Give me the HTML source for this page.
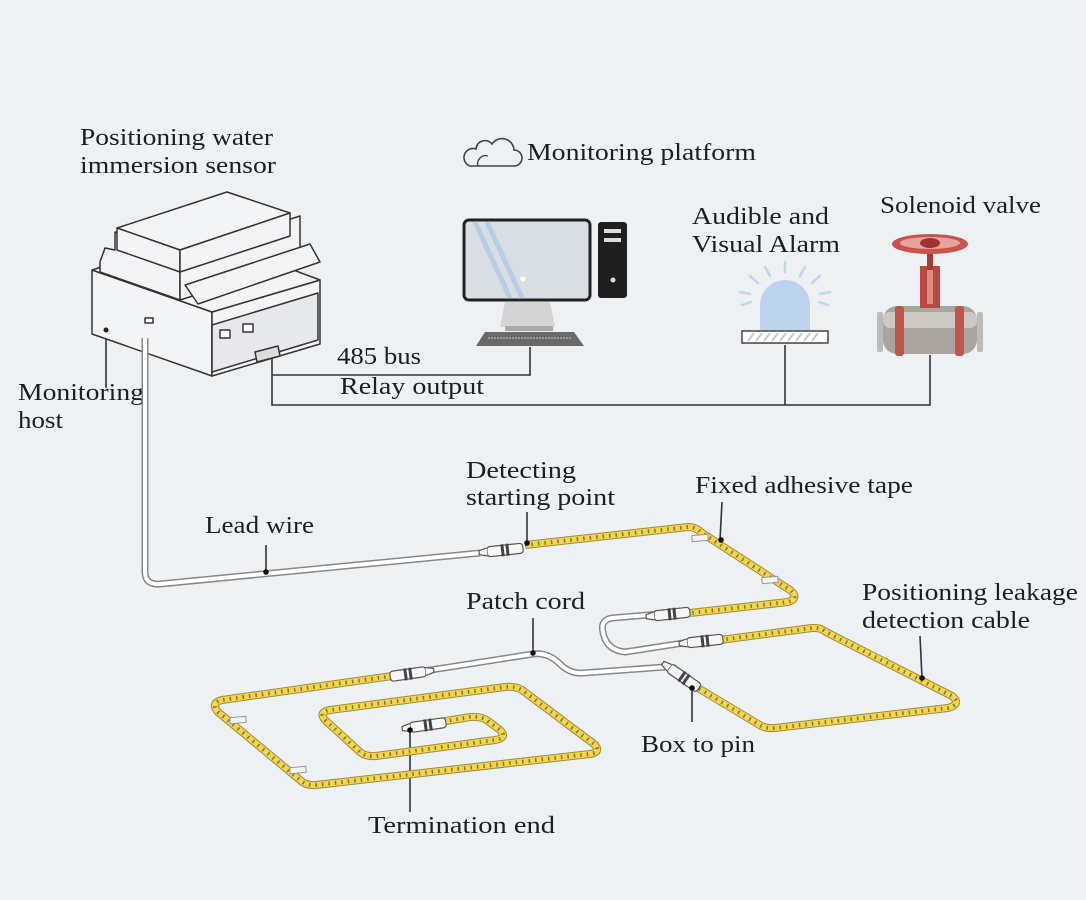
<!DOCTYPE html>
<html><head><meta charset="utf-8"><style>
html,body{margin:0;padding:0;background:#eef1f4;}
svg{display:block}
text{font-family:"Liberation Serif",serif;font-size:24px;fill:#1e1e1e}
</style></head><body>
<svg width="1086" height="900" viewBox="0 0 1086 900" xmlns="http://www.w3.org/2000/svg">
<rect width="1086" height="900" fill="#eef1f4"/>
<defs>
<g id="conn">
<rect x="-18" y="-5" width="36" height="10" rx="3" fill="#f6f6f6" stroke="#555" stroke-width="1.2"/>
<rect x="-4" y="-6" width="3" height="12" fill="#444"/>
<rect x="1" y="-6" width="3" height="12" fill="#444"/>
<path d="M-18,-4 L-26,-2 L-26,2 L-18,4" fill="#f6f6f6" stroke="#555" stroke-width="1.2"/>
</g>
<g id="tape"><rect x="-8" y="-3" width="16" height="6" fill="#f2f2f2" stroke="#999" stroke-width="1"/></g>
</defs>

<text x="80" y="145" textLength="193" lengthAdjust="spacingAndGlyphs">Positioning water</text>
<text x="80" y="173" textLength="196" lengthAdjust="spacingAndGlyphs">immersion sensor</text>
<text x="527" y="160" textLength="229" lengthAdjust="spacingAndGlyphs">Monitoring platform</text>
<text x="692" y="224" textLength="137" lengthAdjust="spacingAndGlyphs">Audible and</text>
<text x="692" y="252" textLength="148" lengthAdjust="spacingAndGlyphs">Visual Alarm</text>
<text x="880" y="213" textLength="161" lengthAdjust="spacingAndGlyphs">Solenoid valve</text>
<text x="337" y="364" textLength="84" lengthAdjust="spacingAndGlyphs">485 bus</text>
<text x="340" y="394" textLength="144" lengthAdjust="spacingAndGlyphs">Relay output</text>
<text x="18" y="400" textLength="126" lengthAdjust="spacingAndGlyphs">Monitoring</text>
<text x="18" y="428" textLength="45" lengthAdjust="spacingAndGlyphs">host</text>
<text x="205" y="533" textLength="109" lengthAdjust="spacingAndGlyphs">Lead wire</text>
<text x="466" y="478" textLength="110" lengthAdjust="spacingAndGlyphs">Detecting</text>
<text x="466" y="505" textLength="149" lengthAdjust="spacingAndGlyphs">starting point</text>
<text x="695" y="493" textLength="218" lengthAdjust="spacingAndGlyphs">Fixed adhesive tape</text>
<text x="466" y="609" textLength="119" lengthAdjust="spacingAndGlyphs">Patch cord</text>
<text x="862" y="600" textLength="216" lengthAdjust="spacingAndGlyphs">Positioning leakage</text>
<text x="862" y="628" textLength="168" lengthAdjust="spacingAndGlyphs">detection cable</text>
<text x="641" y="752" textLength="114" lengthAdjust="spacingAndGlyphs">Box to pin</text>
<text x="368" y="833" textLength="187" lengthAdjust="spacingAndGlyphs">Termination end</text>

<path d="M470,166 h44 a8,8 0 0 0 0,-16 a12,12 0 0 0 -22,-6 a9,9 0 0 0 -16,5 a8,8 0 0 0 -6,17 z" fill="none" stroke="#444" stroke-width="1.6"/>
<path d="M478,166 a8,8 0 0 1 10,-10" fill="none" stroke="#444" stroke-width="1.4"/>

<g fill="none" stroke="#333" stroke-width="1.6">
<path d="M272,355 V405 H930 V355"/>
<path d="M272,375 H530 V347"/>
<path d="M785,345 V405"/>
<path d="M106,330 V388"/>
<path d="M266,545 V572"/>
<path d="M527,512 V543"/>
<path d="M722,502 L720,540"/>
<path d="M920,636 L922,678"/>
<path d="M533,618 V653"/>
<path d="M692,688 V722"/>
<path d="M410,730 V812"/>
</g>

<g stroke="#333" stroke-width="1.5" stroke-linejoin="round" fill="#f3f4f6">
<polygon points="92,270 212,312 212,376 92,334"/>
<polygon points="212,312 320,280 320,344 212,376"/>
<polygon points="92,270 200,235 320,280 212,312"/>
<polygon points="100,262 105,248 115,250 115,232 180,255 180,300 100,272"/>
<polygon points="180,255 300,216 300,262 180,300"/>
<polygon points="117,228 227,192 290,213 180,250"/>
<polygon points="117,228 180,250 180,272 117,250"/>
<polygon points="180,250 290,213 290,236 180,272"/>
<polygon points="185,285 310,244 320,262 198,304"/>
<polygon points="212,325 318,293 318,340 212,372" fill="#e6e8eb"/>
<rect x="220" y="330" width="10" height="8" fill="#fff"/>
<rect x="243" y="324" width="10" height="8" fill="#fff"/>
<polygon points="255,352 278,346 280,356 257,362" fill="#ddd"/>
<rect x="145" y="318" width="8" height="5" fill="#fff"/>
</g>
<circle cx="106" cy="330" r="2.5" fill="#222"/>

<rect x="464" y="220" width="126" height="80" rx="5" fill="#d9dee4" stroke="#222" stroke-width="3"/>
<path d="M475,222 L510,298 M487,222 L522,298" stroke="#b8cde6" stroke-width="5"/>
<circle cx="523" cy="279" r="2.5" fill="#fff"/>
<rect x="598" y="222" width="29" height="76" rx="3" fill="#1f1f1f"/>
<rect x="604" y="229" width="17" height="4" fill="#ddd"/><rect x="604" y="238" width="17" height="4" fill="#ddd"/>
<circle cx="613" cy="280" r="2.5" fill="#ddd"/>
<polygon points="505,302 550,302 555,327 500,327" fill="#d4d4d4"/>
<rect x="505" y="326" width="48" height="5" fill="#aaa"/>
<polygon points="485,332 574,332 584,346 476,346" fill="#6a6a6a"/>
<path d="M488,338 H572" stroke="#ccc" stroke-width="1" stroke-dasharray="2 1"/>

<path d="M760,330 V305 a25,25 0 0 1 50,0 V330 z" fill="#bdd3ec"/>
<rect x="742" y="331" width="86" height="12" fill="#fff" stroke="#444" stroke-width="1.5"/>
<path d="M748,341 l6,-8 M756,341 l6,-8 M764,341 l6,-8 M772,341 l6,-8 M780,341 l6,-8 M788,341 l6,-8 M796,341 l6,-8 M804,341 l6,-8 M812,341 l6,-8" stroke="#ccc" stroke-width="2"/>
<g stroke="#c5d6ea" stroke-width="2.5" stroke-linecap="round">
<path d="M785,262 V272 M765,267 L770,276 M805,267 L800,276 M750,276 L758,283 M820,276 L812,283 M740,292 L750,294 M830,292 L820,294 M742,305 L751,302 M828,305 L819,302"/>
</g>

<rect x="883" y="306" width="94" height="48" rx="14" fill="#a9a49e"/>
<rect x="883" y="312" width="94" height="16" rx="7" fill="#ccc8c2"/>
<rect x="895" y="306" width="9" height="50" rx="3" fill="#c0554b"/>
<rect x="955" y="306" width="9" height="50" rx="3" fill="#c0554b"/>
<rect x="877" y="312" width="6" height="40" rx="2" fill="#bbb"/>
<rect x="977" y="312" width="6" height="40" rx="2" fill="#bbb"/>
<rect x="920" y="266" width="20" height="42" fill="#b84843"/>
<rect x="927" y="270" width="6" height="34" fill="#e08a80"/>
<rect x="927" y="250" width="6" height="20" fill="#a83b36"/>
<ellipse cx="930" cy="244" rx="38" ry="10" fill="#c9524c"/>
<ellipse cx="930" cy="243" rx="30" ry="6" fill="#e7a49c"/>
<ellipse cx="930" cy="243" rx="10" ry="5" fill="#9e3430"/>

<g fill="none" stroke-linejoin="round">
<path id="w1" d="M145,338 V572 Q145,585 160,584 L480,553"/>
<path id="w2" d="M660,614 L612,618 Q600,620 603,632 Q606,650 625,652 L690,642"/>
<path id="w3" d="M418,672 L533,654 Q548,652 560,664 Q570,674 583,673 L665,667"/>
<use href="#w1" stroke="#888" stroke-width="7"/><use href="#w1" stroke="#fff" stroke-width="4"/>
<use href="#w2" stroke="#888" stroke-width="7"/><use href="#w2" stroke="#fff" stroke-width="4"/>
<use href="#w3" stroke="#888" stroke-width="7"/><use href="#w3" stroke="#fff" stroke-width="4"/>

<path id="y1" d="M525,545 L688,527 Q696,527 702,533 L790,590 Q800,598 788,602 L690,613"/>
<path id="y2" d="M720,640 L812,628 Q820,627 826,632 L952,696 Q962,704 948,708 L775,728 Q765,729 758,724 L698,688"/>
<path id="y3" d="M392,676 L222,700 Q210,703 218,712 L300,780 Q306,786 316,785 L590,754 Q602,752 594,744 L522,690 Q515,686 505,687 L330,710 Q318,712 325,720 L360,752 Q366,757 376,756 L495,740 Q508,738 500,730 L488,721 Q482,716 470,717 L440,722"/>
<use href="#y1" stroke="#a08c3a" stroke-width="8"/><use href="#y1" stroke="#f0d650" stroke-width="6"/><use href="#y1" stroke="#8a7628" stroke-width="4" stroke-dasharray="1.5 5"/>
<use href="#y2" stroke="#a08c3a" stroke-width="8"/><use href="#y2" stroke="#f0d650" stroke-width="6"/><use href="#y2" stroke="#8a7628" stroke-width="4" stroke-dasharray="1.5 5"/>
<use href="#y3" stroke="#a08c3a" stroke-width="8"/><use href="#y3" stroke="#f0d650" stroke-width="6"/><use href="#y3" stroke="#8a7628" stroke-width="4" stroke-dasharray="1.5 5"/>
</g>

<use href="#conn" transform="translate(505,550) rotate(-6)"/>
<use href="#conn" transform="translate(672,614) rotate(-6)"/>
<use href="#conn" transform="translate(705,641) rotate(-6)"/>
<use href="#conn" transform="translate(408,674) rotate(-8) scale(-1,1)"/>
<use href="#conn" transform="translate(684,678) rotate(35)"/>
<use href="#conn" transform="translate(428,725) rotate(-8)"/>

<use href="#tape" transform="translate(700,538) rotate(-5)"/>
<use href="#tape" transform="translate(770,580) rotate(-5)"/>
<use href="#tape" transform="translate(238,720) rotate(-5)"/>
<use href="#tape" transform="translate(298,770) rotate(-5)"/>

<g fill="#111">
<circle cx="266" cy="572" r="2.8"/><circle cx="527" cy="543" r="2.8"/><circle cx="721" cy="540" r="2.8"/>
<circle cx="922" cy="678" r="2.8"/><circle cx="533" cy="653" r="2.8"/><circle cx="692" cy="688" r="2.8"/>
<circle cx="410" cy="730" r="2.8"/>
</g>
</svg>
</body></html>
